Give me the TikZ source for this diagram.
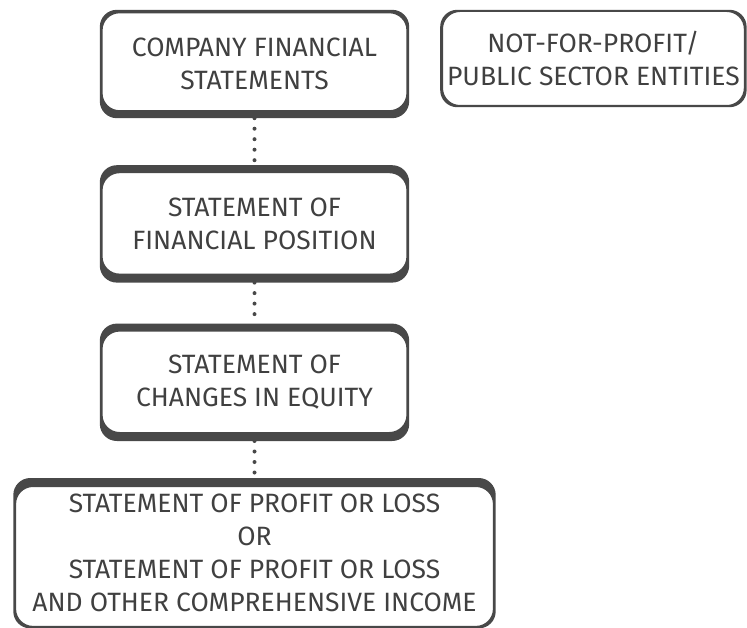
\documentclass[tikz,border=0pt]{standalone}
\usepackage{fontspec}
\setmainfont{Fira Sans}
\usetikzlibrary{positioning}
\definecolor{frameGray}{RGB}{72,72,72}
\definecolor{textGray}{RGB}{64,64,64}

% rounded frame whose top and bottom bands can be heavier than its sides
\newcommand\ribbon[3]{%
  \fill[frameGray,even odd rule,rounded corners=17pt]
    (#1.south west) rectangle (#1.north east)
    ([shift={(2.8pt,#3)}]#1.south west) rectangle ([shift={(-2.8pt,-#2)}]#1.north east);}

\begin{document}
\begin{tikzpicture}[x=1pt,y=1pt,
    stmt/.style={rectangle,inner sep=0pt,minimum width=309pt,align=center,
                 text=textGray,font=\fontsize{26.5}{33}\selectfont},
    dots/.style={frameGray,line width=4pt,line cap=round,
                 dash pattern=on 0pt off 10.5pt}]
  \useasboundingbox (0,0) rectangle (747,-628);

  \node[stmt,minimum height=108pt] (cfs) at (254.5,-64)
    {COMPANY FINANCIAL\\STATEMENTS};
  \node[stmt,minimum height=117pt,below=47pt of cfs] (sfp)
    {STATEMENT OF\\FINANCIAL POSITION};
  \node[stmt,minimum height=117pt,below=41pt of sfp] (sce)
    {STATEMENT OF\\CHANGES IN EQUITY};
  \node[stmt,minimum width=482pt,minimum height=150pt,below=37pt of sce] (spl)
    {STATEMENT OF PROFIT OR LOSS\\OR\\STATEMENT OF PROFIT OR LOSS\\
     AND OTHER COMPREHENSIVE INCOME};
  \node[stmt,minimum width=306pt,minimum height=97pt,
        right=31pt of cfs.north east,anchor=north west] (nfp)
    {NOT-FOR-PROFIT/\\PUBLIC SECTOR ENTITIES};

  \ribbon{cfs}{3.5pt}{8pt}
  \ribbon{sfp}{8pt}{9pt}
  \ribbon{sce}{8pt}{9pt}
  \ribbon{spl}{9pt}{2.5pt}
  \ribbon{nfp}{2.2pt}{2.2pt}

  \draw[dots] (cfs) -- (sfp);
  \draw[dots] (sfp) -- (sce);
  \draw[dots] (sce) -- (spl);
\end{tikzpicture}
\end{document}
